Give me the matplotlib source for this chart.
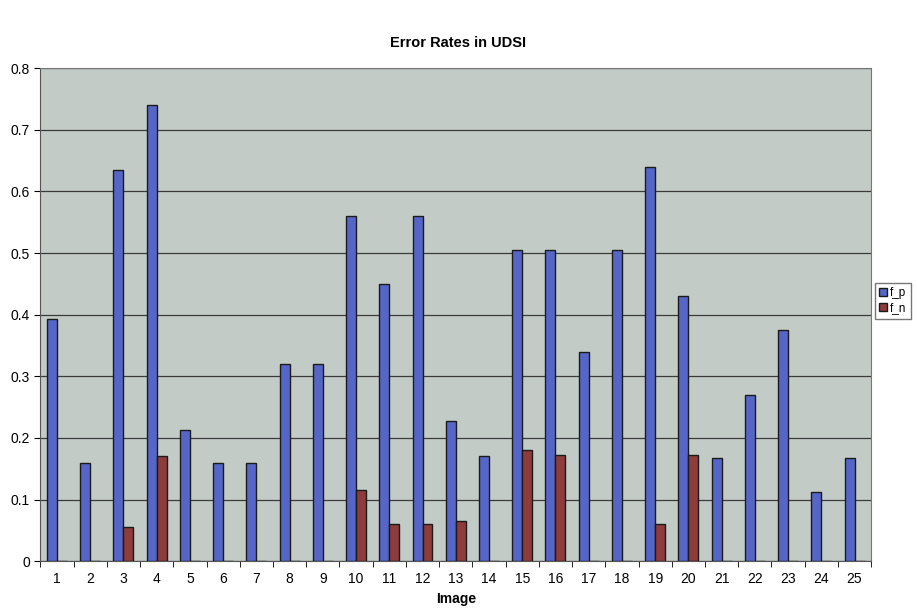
import matplotlib
matplotlib.use("Agg")
import matplotlib.pyplot as plt
import numpy as np

plt.rcParams["font.family"] = ["Liberation Sans", "DejaVu Sans"]

images = list(range(1, 26))
f_p = [0.393, 0.160, 0.635, 0.740, 0.213, 0.160, 0.160, 0.320, 0.320, 0.560,
       0.450, 0.560, 0.227, 0.170, 0.505, 0.505, 0.340, 0.505, 0.640, 0.430,
       0.167, 0.270, 0.375, 0.113, 0.167]
f_n = [0.0, 0.0, 0.055, 0.170, 0.0, 0.0, 0.0, 0.0, 0.0, 0.115,
       0.060, 0.060, 0.065, 0.0, 0.180, 0.172, 0.0, 0.0, 0.060, 0.172,
       0.0, 0.0, 0.0, 0.0, 0.0]
y_ticks = [0, 0.1, 0.2, 0.3, 0.4, 0.5, 0.6, 0.7, 0.8]

fig = plt.figure(figsize=(9.17, 6.08), dpi=100)
ax = fig.add_axes([0.044, 0.077, 0.906, 0.811])
ax.set_facecolor("#c3cbc7")

x = np.array(images)
w = 0.3
ax.bar(x - w / 2, f_p, width=w, color="#5566c8", edgecolor="#1a1a1a",
       linewidth=1.0, label="f_p", zorder=3)
ax.bar(x + w / 2, f_n, width=w, color="#8e3b3b", edgecolor="#1a1a1a",
       linewidth=1.0, label="f_n", zorder=3)

ax.set_xlim(0.5, 25.5)
ax.set_ylim(0, 0.8)
ax.set_yticks(y_ticks)
ax.set_yticklabels([f"{v:g}" for v in y_ticks], fontsize=10)
ax.set_xticks(x)
ax.set_xticklabels([str(i) for i in images], fontsize=10)
ax.set_xticks(np.arange(0.5, 26, 1), minor=True)
ax.tick_params(axis="x", which="major", length=0, pad=8)
ax.tick_params(axis="x", which="minor", length=4, direction="out")
ax.tick_params(axis="y", length=4, direction="out")
ax.yaxis.grid(True, color="#3a3a3a", linewidth=0.9, zorder=1)

for side in ("left", "bottom"):
    ax.spines[side].set_color("#555555")
for side in ("top", "right"):
    ax.spines[side].set_color("#777777")

ax.set_xlabel("Image", fontsize=10, fontweight="bold", labelpad=4)
fig.suptitle("Error Rates in UDSI", fontsize=10.5, fontweight="bold", y=0.94)

fig.legend(loc="upper left", bbox_to_anchor=(0.954, 0.535), fontsize=8.5,
           frameon=True, fancybox=False, edgecolor="#555555",
           handlelength=0.7, handleheight=0.7, handletextpad=0.25,
           borderpad=0.35, borderaxespad=0.0, labelspacing=0.3)

fig.savefig("out.png", dpi=100)
